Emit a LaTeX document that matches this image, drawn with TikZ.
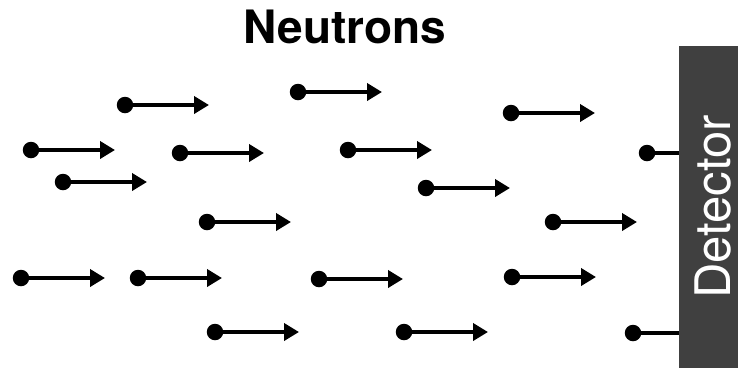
\documentclass[tikz,border=0pt]{standalone}
\usepackage{fontspec}
\setmainfont{TeX Gyre Heros}
\usetikzlibrary{arrows.meta}
\definecolor{detgray}{HTML}{404040}
\tikzset{
  neutron/.style={circle,fill=black,inner sep=0pt,minimum size=16.5pt},
  flight/.style={line width=4.5pt,-{Triangle[length=15pt,width=17pt]}},
  hidden/.style={line width=4.5pt}
}
\begin{document}
\begin{tikzpicture}[x=1pt,y=-1pt]
\useasboundingbox (0,0) rectangle (738,368);
% title
\node[font=\fontsize{46}{50}\selectfont\bfseries,anchor=base] (title) at (345,43) {Neutrons};
% neutrons with arrows
\foreach \i/\x/\y in {1/125/105,2/298/92,3/511/113,4/31/150,5/180/153,6/348/150,
  8/63/182,9/426/188,10/207/222,11/553/222,12/21/278,13/138/278,14/319/279,
  15/512/277,16/215/332,17/404/332}{
  \node[neutron] (n\i) at (\x,\y) {};
  \coordinate (t\i) at (\x+84,\y);
  \draw[flight] (n\i.center) -- (t\i);
}
% neutrons reaching the detector
\node[neutron] (n7) at (647,153) {};
\coordinate (t7) at (690,153);
\draw[hidden] (n7.center) -- (t7);
\node[neutron] (n18) at (633,333) {};
\coordinate (t18) at (690,333);
\draw[hidden] (n18.center) -- (t18);
% detector
\fill[detgray] (679,46) rectangle (738,368);
\node[rotate=90,text=white,anchor=base,inner sep=0pt,font=\fontsize{49}{53}\selectfont] (det) at (730,207) {Detector};
\end{tikzpicture}
\end{document}
